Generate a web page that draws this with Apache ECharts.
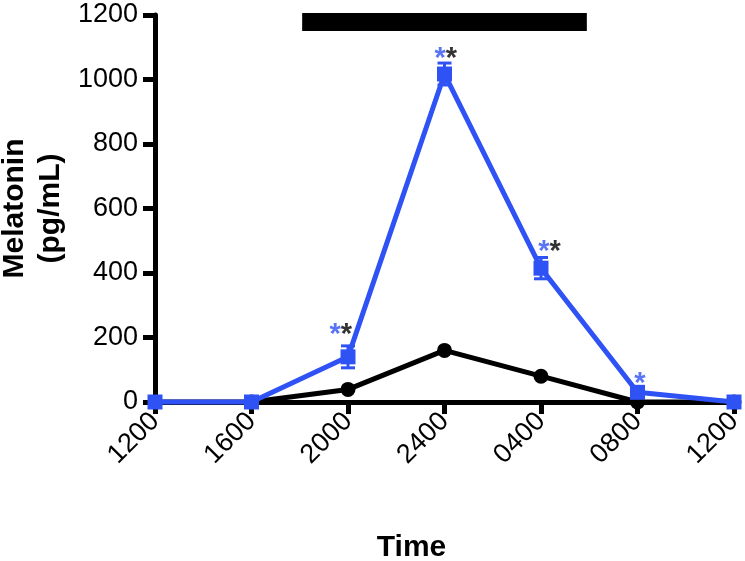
<!DOCTYPE html>
<html>
<head>
<meta charset="utf-8">
<script src="https://cdn.jsdelivr.net/npm/echarts@6/dist/echarts.min.js"></script>
<style>
  html, body { margin: 0; padding: 0; background: #fff; }
  #chart { width: 745px; height: 561px; }
</style>
</head>
<body>
<div id="chart"></div>
<script>
// time of day in hours from the first 1200 sample
var hours = [0, 4, 8, 12, 16, 20, 24]
var tickLabels = ['1200', '1600', '2000', '2400', '0400', '0800', '1200']

// melatonin, pg/mL
var blueMean = [0, 0, 140, 1017, 415, 30, 0]
var blueErr = [0, 0, 34, 34, 33, 0, 0]
var blackMean = [0, 0, 39, 160, 80, 0, 0]

// dark period bar (1800 -> 0600)
var darkStart = 6.1
var darkEnd = 17.9
var darkLevel = 1178

// significance asterisks: x (hours), y (pg/mL), which ones
var starX = [7.7, 12.05, 16.35, 20.1]
var starY = [235, 1092, 492, 84]
var starKind = ['both', 'both', 'both', 'blue']

var BLUE = '#2f52f4'
var FONT = 'Liberation Sans'

function pairs(xs, ys) {
  return xs.map(function(x, i) { return [x, ys[i]] })
}

var chart = echarts.init(document.getElementById('chart'))

chart.setOption({
  animation: false,
  textStyle: { fontFamily: FONT },
  grid: {
    left: 155,
    right: 11,
    top: 15,
    bottom: 159,
    containLabel: false,
    outerBoundsMode: 'none'
  },
  xAxis: {
    type: 'value',
    min: 0,
    max: 24,
    interval: 4,
    name: 'Time',
    nameLocation: 'middle',
    nameGap: 131,
    nameMoveOverlap: false,
    nameTextStyle: { fontSize: 30, fontWeight: 'bold', color: '#000', padding: [0, 66, 0, 0] },
    splitLine: { show: false },
    axisLine: { lineStyle: { color: '#000', width: 5 } },
    axisTick: { length: 12, lineStyle: { color: '#000', width: 5 } },
    axisLabel: {
      rotate: 45,
      fontSize: 27,
      color: '#000',
      margin: 15,
      formatter: function(v) { return tickLabels[Math.round(v / 4)] }
    }
  },
  yAxis: {
    type: 'value',
    min: 0,
    max: 1200,
    interval: 200,
    name: 'Melatonin\n(pg/mL)',
    nameLocation: 'middle',
    nameRotate: 90,
    nameGap: 86,
    nameMoveOverlap: false,
    nameTextStyle: { fontSize: 30, fontWeight: 'bold', color: '#000', lineHeight: 36 },
    splitLine: { show: false },
    axisLine: { lineStyle: { color: '#000', width: 5 } },
    axisTick: { length: 12, lineStyle: { color: '#000', width: 5 } },
    axisLabel: {
      fontSize: 27,
      color: '#000',
      margin: 17,
      formatter: function(v) { return String(v) }
    }
  },
  series: [
    {
      name: 'dark',
      type: 'line',
      data: [[darkStart, darkLevel], [darkEnd, darkLevel]],
      symbol: 'none',
      clip: false,
      silent: true,
      lineStyle: { color: '#000', width: 18, cap: 'butt' },
      z: 1
    },
    {
      name: 'control',
      type: 'line',
      data: pairs(hours, blackMean),
      symbol: 'circle',
      symbolSize: 15,
      clip: false,
      itemStyle: { color: '#000' },
      lineStyle: { color: '#000', width: 5 },
      z: 3
    },
    {
      name: 'errors',
      type: 'custom',
      clip: false,
      data: hours.map(function(h, i) { return [h, blueMean[i], blueErr[i]] }),
      renderItem: function(params, api) {
        var x = api.value(0)
        var m = api.value(1)
        var e = api.value(2)
        if (!e) return
        var top = api.coord([x, m + e])
        var bot = api.coord([x, m - e])
        var half = 7
        var st = { stroke: BLUE, lineWidth: 3 }
        return {
          type: 'group',
          children: [
            { type: 'line', shape: { x1: top[0], y1: top[1], x2: bot[0], y2: bot[1] }, style: st },
            { type: 'line', shape: { x1: top[0] - half, y1: top[1], x2: top[0] + half, y2: top[1] }, style: st },
            { type: 'line', shape: { x1: bot[0] - half, y1: bot[1], x2: bot[0] + half, y2: bot[1] }, style: st }
          ]
        }
      },
      z: 4
    },
    {
      name: 'treated',
      type: 'line',
      data: pairs(hours, blueMean),
      symbol: 'rect',
      symbolSize: 15,
      clip: false,
      itemStyle: { color: BLUE },
      lineStyle: { color: BLUE, width: 5 },
      z: 5
    },
    {
      name: 'stars',
      type: 'scatter',
      silent: true,
      symbolSize: 0,
      data: starX.map(function(x, i) { return [x, starY[i], starKind[i]] }),
      label: {
        show: true,
        position: 'inside',
        offset: [0, 9],
        formatter: function(p) {
          return p.value[2] === 'both' ? '{b|*}{k|*}' : '{b|*}'
        },
        rich: {
          b: { color: BLUE, fontSize: 29, fontWeight: 'bold', fontFamily: FONT },
          k: { color: '#000', fontSize: 29, fontWeight: 'bold', fontFamily: FONT }
        }
      },
      z: 6
    }
  ]
})
</script>
</body>
</html>
